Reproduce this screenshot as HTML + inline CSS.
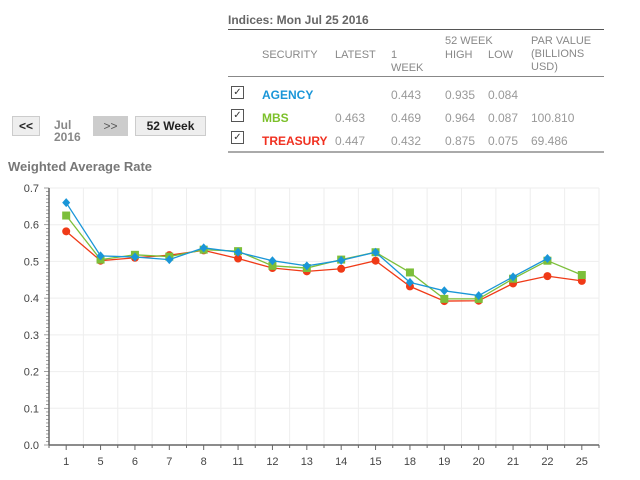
<!DOCTYPE html>
<html><head><meta charset="utf-8"><style>
body{margin:0;width:640px;height:480px;background:#fff;font-family:"Liberation Sans",sans-serif;position:relative;overflow:hidden}
.a{position:absolute;white-space:nowrap}
.btn{position:absolute;border:1px solid #ccc;background:#eee;font-size:12px;font-weight:bold;text-align:center;line-height:18px;color:#222}
.h{color:#888;font-size:11px;line-height:13px}
.v{color:#999;font-size:12px}
.cb{position:absolute;width:11px;height:11px;border:1px solid #555;font-size:10px;line-height:11px;text-align:center;color:#333}
</style></head><body>
<div class="a" style="left:228px;top:13px;font-size:12px;font-weight:bold;color:#666">Indices: Mon Jul 25 2016</div>
<div class="a" style="left:228px;top:29px;width:376px;height:1px;background:#555"></div>
<div class="a h" style="left:262px;top:49px">SECURITY</div>
<div class="a h" style="left:335px;top:49px">LATEST</div>
<div class="a h" style="left:391px;top:49px">1<br>WEEK</div>
<div class="a h" style="left:445px;top:35px">52 WEEK</div>
<div class="a h" style="left:445px;top:49px">HIGH</div>
<div class="a h" style="left:488px;top:49px">LOW</div>
<div class="a h" style="left:531px;top:35px">PAR VALUE<br>(BILLIONS<br>USD)</div>
<div class="a" style="left:228px;top:76px;width:376px;height:1px;background:#888"></div>
<div class="cb" style="left:231px;top:86px">✓</div>
<div class="a" style="left:262px;top:88px;font-size:12px;font-weight:bold;color:#1a96d8">AGENCY</div>
<div class="a v" style="left:391px;top:88px">0.443</div>
<div class="a v" style="left:445px;top:88px">0.935</div>
<div class="a v" style="left:488px;top:88px">0.084</div>
<div class="cb" style="left:231px;top:109px">✓</div>
<div class="a" style="left:262px;top:111px;font-size:12px;font-weight:bold;color:#7cc02a">MBS</div>
<div class="a v" style="left:335px;top:111px">0.463</div>
<div class="a v" style="left:391px;top:111px">0.469</div>
<div class="a v" style="left:445px;top:111px">0.964</div>
<div class="a v" style="left:488px;top:111px">0.087</div>
<div class="a v" style="left:531px;top:111px">100.810</div>
<div class="cb" style="left:231px;top:131px">✓</div>
<div class="a" style="left:262px;top:134px;font-size:12px;font-weight:bold;color:#f03020">TREASURY</div>
<div class="a v" style="left:335px;top:134px">0.447</div>
<div class="a v" style="left:391px;top:134px">0.432</div>
<div class="a v" style="left:445px;top:134px">0.875</div>
<div class="a v" style="left:488px;top:134px">0.075</div>
<div class="a v" style="left:531px;top:134px">69.486</div>
<div class="a" style="left:228px;top:151px;width:376px;height:2px;background:#aaa"></div>

<div class="btn" style="left:12px;top:116px;width:26px;height:18px">&lt;&lt;</div>
<div class="a" style="left:54px;top:119px;font-size:12px;font-weight:bold;color:#888;line-height:12px">Jul<br>2016</div>
<div class="btn" style="left:93px;top:116px;width:33px;height:18px;background:#ccc;color:#555;font-weight:normal">&gt;&gt;</div>
<div class="btn" style="left:135px;top:116px;width:69px;height:18px">52 Week</div>
<div class="a" style="left:8px;top:159px;font-size:13px;font-weight:bold;color:#777">Weighted Average Rate</div>

<svg id="chart" class="a" style="left:0;top:0" width="640" height="480"></svg>
<script>
const categories=["1","5","6","7","8","11","12","13","14","15","18","19","20","21","22","25"];
const agency=[0.66,0.515,0.512,0.505,0.537,0.525,0.502,0.488,0.503,0.525,0.443,0.42,0.407,0.458,0.508,null];
const mbs=[0.625,0.505,0.518,0.513,0.532,0.528,0.488,0.482,0.505,0.525,0.47,0.398,0.398,0.453,0.502,0.463];
const treasury=[0.582,0.502,0.51,0.517,0.53,0.508,0.482,0.473,0.48,0.502,0.432,0.392,0.393,0.44,0.46,0.447];
const yTicks=[0,0.1,0.2,0.3,0.4,0.5,0.6,0.7];
const svg=document.getElementById('chart');const NS='http://www.w3.org/2000/svg';
const L=49,R=599,T=188,B=445,ymax=0.7;
const bw=(R-L)/categories.length;
const x=i=>L+bw*(i+0.5);
const y=v=>B-(v/ymax)*(B-T);
function mk(t,a){const e=document.createElementNS(NS,t);for(const k in a)e.setAttribute(k,a[k]);svg.appendChild(e);return e;}
yTicks.forEach(v=>{
 const g=mk('line',{x1:L,x2:R,y1:y(v),y2:y(v),stroke:'#eee'});
 
 
 const t=mk('text',{x:L-10,y:y(v)+4,'text-anchor':'end','font-size':'11','fill':'#444','font-family':'Liberation Sans, sans-serif'});
 t.textContent=v.toFixed(1);
 
 
});
for(let i=0;i<=categories.length;i++){
 const gx=L+bw*i;
 if(i>0){const g=mk('line',{x1:gx,x2:gx,y1:T,y2:B,stroke:'#eee'});
 
 }
 mk('line',{x1:gx,x2:gx,y1:B,y2:B+3,stroke:'#666'});
}
for(let k=0;k<=70;k++){const yy=y(k/100);mk('line',{x1:L-(k%10?3:5),x2:L,y1:yy,y2:yy,stroke:'#777','stroke-width':0.7});}
categories.forEach((c,i)=>{
 mk('line',{x1:x(i),x2:x(i),y1:B,y2:B+5,stroke:'#666'});
 const t=mk('text',{x:x(i),y:B+20,'text-anchor':'middle','font-size':'11','fill':'#444','font-family':'Liberation Sans, sans-serif'});
 t.textContent=c;
 
 
});
const ax=mk('line',{x1:L,x2:L,y1:T,y2:B,stroke:'#666','stroke-width':1.5});


const bx=mk('line',{x1:L,x2:R,y1:B,y2:B,stroke:'#666','stroke-width':1.5});


function series(vals,col,shape,name){
 let d='';vals.forEach((v,i)=>{if(v==null)return;d+=(d?'L':'M')+x(i)+','+y(v);});
 const p=mk('path',{d:d,fill:'none',stroke:col,'stroke-width':1.3});
 
 
 vals.forEach((v,i)=>{if(v==null)return;let m;const cx=x(i),cy=y(v);
  if(shape==='c')m=mk('circle',{cx:cx,cy:cy,r:4,fill:col});
  else if(shape==='s')m=mk('rect',{x:cx-4,y:cy-4,width:8,height:8,fill:col});
  else m=mk('path',{d:`M${cx},${cy-4.5}L${cx+4},${cy}L${cx},${cy+4.5}L${cx-4},${cy}Z`,fill:col});
  
  
 });
}
series(treasury,'#f03a17','c','treasury');
series(mbs,'#7cbf3a','s','mbs');
series(agency,'#1a96d8','d','agency');
</script>
</body></html>
